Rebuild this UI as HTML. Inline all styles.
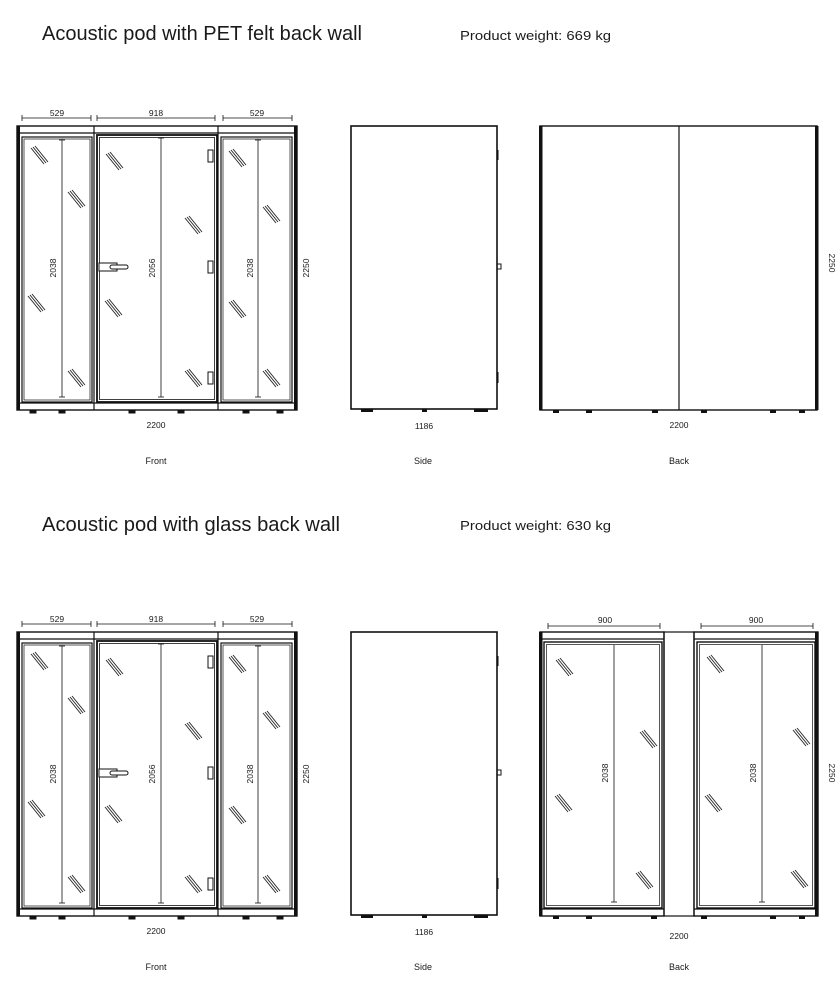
<!DOCTYPE html>
<html><head><meta charset="utf-8"><style>
html,body{margin:0;padding:0;background:#fff;}
svg{display:block;}
text{font-family:"Liberation Sans",sans-serif;fill:#1a1a1a;}
.t{font-size:20px;}
.w{font-size:13px;}
.d{font-size:8.5px;}
.l{font-size:9px;}
</style></head><body>
<svg width="837" height="1000" viewBox="0 0 837 1000" xmlns="http://www.w3.org/2000/svg">
<defs>
<g id="h" stroke="#222" stroke-width="0.9" fill="none">
<line x1="0" y1="0" x2="13" y2="16"/><line x1="2" y1="-1" x2="15" y2="15"/><line x1="-2" y1="1" x2="11" y2="17"/>
</g>
<g id="foot" fill="#111"><rect x="-3" y="0" width="6" height="3"/></g>
<g id="front" stroke="#111" fill="none">
 <rect x="17" y="126" width="280" height="284" stroke-width="1.4"/>
 <rect x="17" y="126" width="3" height="284" fill="#111" stroke="none"/>
 <rect x="294" y="126" width="3" height="284" fill="#111" stroke="none"/>
 <line x1="17" y1="133" x2="297" y2="133" stroke-width="1.2"/>
 <line x1="17" y1="403" x2="297" y2="403" stroke-width="1.2"/>
 <line x1="94" y1="126" x2="94" y2="410" stroke-width="1.2"/>
 <line x1="218" y1="126" x2="218" y2="410" stroke-width="1.2"/>
 <rect x="22" y="137" width="70" height="265" stroke-width="1.2"/>
 <rect x="24" y="139" width="66" height="261" stroke-width="0.7"/>
 <rect x="97" y="135" width="120" height="267" stroke-width="1.8"/>
 <rect x="99.5" y="137.5" width="115" height="262" stroke-width="0.8"/>
 <rect x="221" y="137" width="71" height="265" stroke-width="1.2"/>
 <rect x="223" y="139" width="67" height="261" stroke-width="0.7"/>
 <rect x="208" y="150" width="5" height="12" stroke-width="1" fill="#fff"/>
 <rect x="208" y="261" width="5" height="12" stroke-width="1" fill="#fff"/>
 <rect x="208" y="372" width="5" height="12" stroke-width="1" fill="#fff"/>
 <rect x="99" y="263" width="18" height="8" stroke-width="1" fill="#fff"/>
 <rect x="110" y="265" width="18" height="4" rx="2" stroke-width="1" fill="#fff"/>
 <g stroke-width="0.8">
 <line x1="22" y1="118" x2="91" y2="118"/><line x1="22" y1="115" x2="22" y2="121"/><line x1="91" y1="115" x2="91" y2="121"/>
 <line x1="97" y1="118" x2="215" y2="118"/><line x1="97" y1="115" x2="97" y2="121"/><line x1="215" y1="115" x2="215" y2="121"/>
 <line x1="223" y1="118" x2="292" y2="118"/><line x1="223" y1="115" x2="223" y2="121"/><line x1="292" y1="115" x2="292" y2="121"/>
 <line x1="62" y1="140" x2="62" y2="397"/><line x1="59" y1="140" x2="65" y2="140"/><line x1="59" y1="397" x2="65" y2="397"/>
 <line x1="161" y1="138" x2="161" y2="397"/><line x1="158" y1="138" x2="164" y2="138"/><line x1="158" y1="397" x2="164" y2="397"/>
 <line x1="258" y1="140" x2="258" y2="397"/><line x1="255" y1="140" x2="261" y2="140"/><line x1="255" y1="397" x2="261" y2="397"/>
 </g>
 <use href="#h" x="33" y="147"/><use href="#h" x="70" y="191"/><use href="#h" x="30" y="295"/><use href="#h" x="70" y="370"/>
 <use href="#h" x="108" y="153"/><use href="#h" x="187" y="217"/><use href="#h" x="107" y="300"/><use href="#h" x="187" y="370"/>
 <use href="#h" x="231" y="150"/><use href="#h" x="265" y="206"/><use href="#h" x="231" y="301"/><use href="#h" x="265" y="370"/>
 <use href="#foot" x="33" y="410"/><use href="#foot" x="62" y="410"/><use href="#foot" x="132" y="410"/><use href="#foot" x="181" y="410"/><use href="#foot" x="246" y="410"/><use href="#foot" x="280" y="410"/>
</g>
<g id="frontT">
 <text class="d" x="57" y="116" text-anchor="middle">529</text>
 <text class="d" x="156" y="116" text-anchor="middle">918</text>
 <text class="d" x="257" y="116" text-anchor="middle">529</text>
 <text class="d" transform="translate(56,268) rotate(-90)" text-anchor="middle">2038</text>
 <text class="d" transform="translate(155,268) rotate(-90)" text-anchor="middle">2056</text>
 <text class="d" transform="translate(253,268) rotate(-90)" text-anchor="middle">2038</text>
 <text class="d" transform="translate(309,268) rotate(-90)" text-anchor="middle">2250</text>
 <text class="d" x="156" y="428" text-anchor="middle">2200</text>
 <text class="l" x="156" y="464" text-anchor="middle">Front</text>
</g>
<g id="side">
 <rect x="351" y="126" width="146" height="283" stroke="#111" stroke-width="1.6" fill="none"/>
 <line x1="497.5" y1="150" x2="497.5" y2="160" stroke="#111" stroke-width="2"/>
 <line x1="497.5" y1="372" x2="497.5" y2="383" stroke="#111" stroke-width="2"/>
 <rect x="497" y="264" width="4" height="5" fill="none" stroke="#111" stroke-width="1"/>
 <rect x="361" y="409" width="12" height="3" fill="#111"/><rect x="422" y="409" width="5" height="3" fill="#111"/><rect x="474" y="409" width="14" height="3" fill="#111"/>
 <text class="d" x="424" y="429" text-anchor="middle">1186</text>
 <text class="l" x="423" y="464" text-anchor="middle">Side</text>
</g>
</defs>

<text class="t" x="42" y="40" textLength="320" lengthAdjust="spacingAndGlyphs">Acoustic pod with PET felt back wall</text>
<text class="w" x="460" y="40" textLength="151" lengthAdjust="spacingAndGlyphs">Product weight: 669 kg</text>
<use href="#front"/><use href="#frontT"/><use href="#side"/>
<g stroke="#111" fill="none">
 <rect x="540" y="126" width="277" height="284" stroke-width="1.4"/>
 <rect x="539" y="126" width="3.5" height="284" fill="#111" stroke="none"/>
 <rect x="815" y="126" width="3.5" height="284" fill="#111" stroke="none"/>
 <line x1="679" y1="126" x2="679" y2="410" stroke-width="1.2"/>
</g>
<g fill="#111"><rect x="553" y="410" width="6" height="3"/><rect x="586" y="410" width="6" height="3"/><rect x="652" y="410" width="6" height="3"/><rect x="701" y="410" width="6" height="3"/><rect x="770" y="410" width="6" height="3"/><rect x="799" y="410" width="6" height="3"/></g>
<text class="d" transform="translate(829,263) rotate(90)" text-anchor="middle">2250</text>
<text class="d" x="679" y="428" text-anchor="middle">2200</text>
<text class="l" x="679" y="464" text-anchor="middle">Back</text>

<text class="t" x="42" y="531" textLength="298" lengthAdjust="spacingAndGlyphs">Acoustic pod with glass back wall</text>
<text class="w" x="460" y="530" textLength="151" lengthAdjust="spacingAndGlyphs">Product weight: 630 kg</text>
<g transform="translate(0,506)"><use href="#front"/><use href="#frontT"/><use href="#side"/></g>

<g stroke="#111" fill="none">
 <rect x="540" y="632" width="124" height="284" stroke-width="1.4"/>
 <rect x="694" y="632" width="124" height="284" stroke-width="1.4"/>
 <rect x="664" y="632" width="30" height="284" stroke-width="1.2"/>
 <rect x="539" y="632" width="3.5" height="284" fill="#111" stroke="none"/>
 <rect x="815" y="632" width="3.5" height="284" fill="#111" stroke="none"/>
 <line x1="540" y1="639" x2="664" y2="639" stroke-width="1.2"/>
 <line x1="694" y1="639" x2="818" y2="639" stroke-width="1.2"/>
 <line x1="540" y1="909" x2="664" y2="909" stroke-width="1.2"/>
 <line x1="694" y1="909" x2="818" y2="909" stroke-width="1.2"/>
 <rect x="544" y="642" width="118" height="266" stroke-width="1.4"/>
 <rect x="546.5" y="644.5" width="113" height="261" stroke-width="0.7"/>
 <rect x="697" y="642" width="118" height="266" stroke-width="1.4"/>
 <rect x="699.5" y="644.5" width="113" height="261" stroke-width="0.7"/>
 <g stroke-width="0.8">
 <line x1="548" y1="626" x2="660" y2="626"/><line x1="548" y1="623" x2="548" y2="629"/><line x1="660" y1="623" x2="660" y2="629"/>
 <line x1="701" y1="626" x2="813" y2="626"/><line x1="701" y1="623" x2="701" y2="629"/><line x1="813" y1="623" x2="813" y2="629"/>
 <line x1="614" y1="645" x2="614" y2="902"/><line x1="611" y1="902" x2="617" y2="902"/>
 <line x1="762" y1="645" x2="762" y2="902"/><line x1="759" y1="902" x2="765" y2="902"/>
 </g>
</g>
<use href="#h" x="558" y="659"/><use href="#h" x="642" y="731"/><use href="#h" x="557" y="795"/><use href="#h" x="638" y="872"/>
<use href="#h" x="709" y="656"/><use href="#h" x="795" y="729"/><use href="#h" x="707" y="795"/><use href="#h" x="793" y="871"/>
<g fill="#111"><rect x="553" y="916" width="6" height="3"/><rect x="586" y="916" width="6" height="3"/><rect x="651" y="916" width="6" height="3"/><rect x="701" y="916" width="6" height="3"/><rect x="770" y="916" width="6" height="3"/><rect x="799" y="916" width="6" height="3"/></g>
<text class="d" x="605" y="623" text-anchor="middle">900</text>
<text class="d" x="756" y="623" text-anchor="middle">900</text>
<text class="d" transform="translate(608,773) rotate(-90)" text-anchor="middle">2038</text>
<text class="d" transform="translate(756,773) rotate(-90)" text-anchor="middle">2038</text>
<text class="d" transform="translate(829,773) rotate(90)" text-anchor="middle">2250</text>
<text class="d" x="679" y="939" text-anchor="middle">2200</text>
<text class="l" x="679" y="970" text-anchor="middle">Back</text>
</svg>
</body></html>
